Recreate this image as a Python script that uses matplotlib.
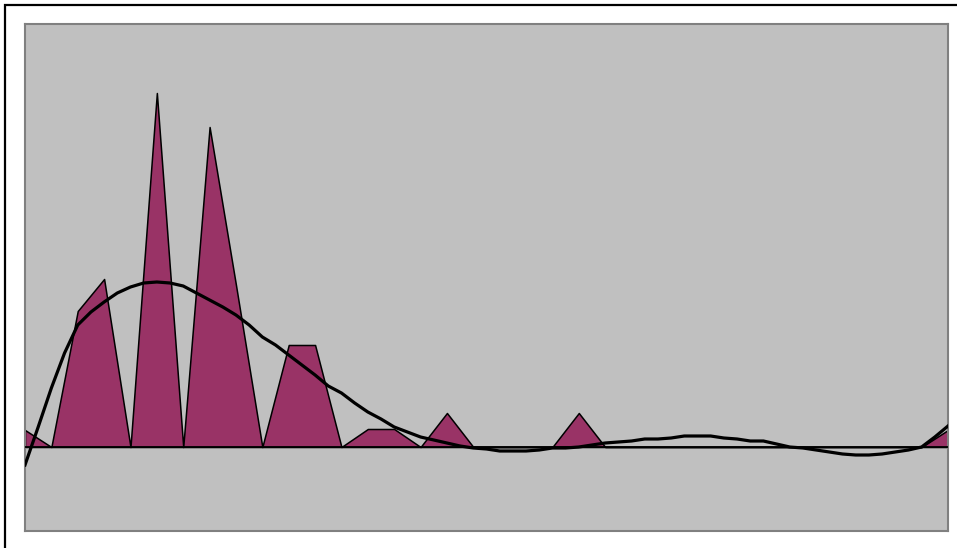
import matplotlib.pyplot as plt
from matplotlib.patches import Rectangle

# категорії (36 точок) та значення серій
categories = list(range(36))
area_values = [17, 0, 136, 168, 0, 354, 0, 320, 162, 0, 102, 102, 0, 18, 18, 0,
               34, 0, 0, 0, 0, 34, 0, 0, 0, 0, 0, 0, 0, 0, 0, 0, 0, 0, 0, 17]

# лінія тренду зчитана з кроком 0.5 категорії
trend_x = [i / 2 for i in range(71)]
trend_values = [-18, 20, 59, 94, 122, 135, 145, 154, 160, 164, 165, 164, 161, 154,
                147, 140, 132, 122, 110, 102, 92, 82, 72, 61, 54, 44, 35, 28, 20,
                15, 10, 7, 4, 1, -1, -2, -4, -4, -4, -3, -1, -1, 0, 2, 4, 5, 6, 8,
                8, 9, 11, 11, 11, 9, 8, 6, 6, 3, 0, -1, -3, -5, -7, -8, -8, -7, -5,
                -3, 0, 10, 21]

W, H = 957, 548
fig = plt.figure(figsize=(W / 100, H / 100), dpi=100)
fig.patch.set_facecolor('white')

# чорна рамка діаграми (права і нижня сторони за межами зображення)
fig.add_artist(Rectangle((5 / W, -0.05), 1.2, 1 - 5 / H + 0.05,
                         transform=fig.transFigure, fill=False,
                         edgecolor='black', linewidth=1.6))

ax = fig.add_axes([25 / W, (H - 531) / H, 923 / W, 507 / H])
ax.set_facecolor('#C0C0C0')

ax.fill_between(categories, area_values, 0, facecolor='#993366',
                edgecolor='black', linewidth=1.1, zorder=2)
ax.axhline(0, color='black', linewidth=1.3, zorder=3)
ax.plot(trend_x, trend_values, color='black', linewidth=2.3,
        solid_joinstyle='round', zorder=4)

ax.set_xlim(0, 35)
ax.set_ylim(-84, 423)
ax.set_xticks([])
ax.set_yticks([])
for s in ax.spines.values():
    s.set_color('#808080')
    s.set_linewidth(1.5)

fig.savefig('out.png', dpi=100)
